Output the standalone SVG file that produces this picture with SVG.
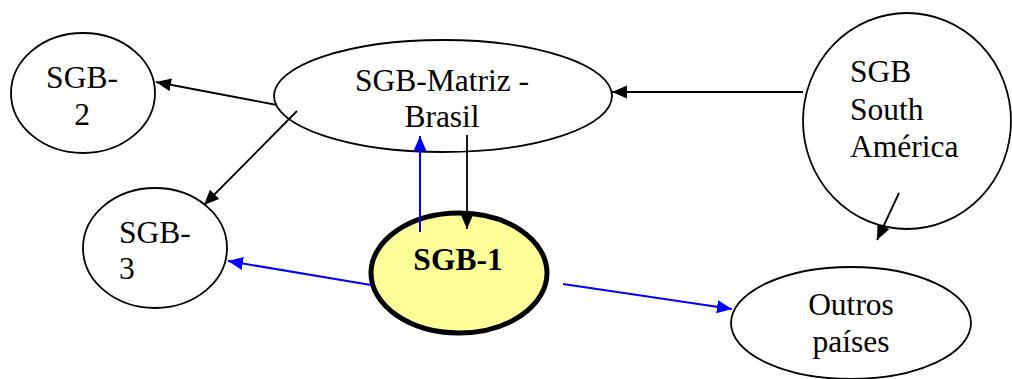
<svg xmlns="http://www.w3.org/2000/svg" width="1012" height="379" viewBox="0 0 1012 379">
<style>
.n{fill:#fff;stroke:#000;stroke-width:1.8}
.t{font-family:"Liberation Serif","Times New Roman",serif;font-size:31.5px;fill:#000}
.c{text-anchor:middle}
.k{stroke:#000;stroke-width:1.8;fill:none}
.b{stroke:#0000ff;stroke-width:2;fill:none}
</style>
<defs>
<marker id="ak" markerUnits="userSpaceOnUse" markerWidth="15" markerHeight="14" refX="15" refY="7" orient="auto"><path d="M0,0.5 L15,7 L0,13.5 Z" fill="#000"/></marker>
<marker id="ab" markerUnits="userSpaceOnUse" markerWidth="15" markerHeight="14" refX="15" refY="7" orient="auto"><path d="M0,0.5 L15,7 L0,13.5 Z" fill="#0000ff"/></marker>
</defs>
<g id="sgb2"><ellipse class="n" cx="83" cy="93" rx="72" ry="60"/><text class="t c" x="82" y="88">SGB-</text><text class="t c" x="82" y="125">2</text></g>
<g id="matriz"><ellipse class="n" cx="443" cy="96" rx="169" ry="56"/><text class="t c" x="442" y="91">SGB-Matriz -</text><text class="t c" x="442" y="127">Brasil</text></g>
<g id="south"><ellipse class="n" cx="907" cy="121" rx="104" ry="108"/><text class="t" x="850" y="82">SGB</text><text class="t" x="850" y="120">South</text><text class="t" x="850" y="157">América</text></g>
<g id="sgb3"><ellipse class="n" cx="155" cy="248" rx="72" ry="60"/><text class="t" x="119" y="243">SGB-</text><text class="t" x="119" y="279">3</text></g>
<g id="sgb1"><ellipse cx="459" cy="273" rx="88" ry="60" fill="#ffff99" stroke="#000" stroke-width="5"/><text class="t c" x="458" y="270" font-weight="bold">SGB-1</text></g>
<g id="outros"><ellipse class="n" cx="851" cy="323" rx="120" ry="56"/><text class="t c" x="851" y="315">Outros</text><text class="t c" x="851" y="352">países</text></g>
<g id="connectors">
<line class="k" x1="803" y1="92" x2="612" y2="92" marker-end="url(#ak)"/>
<line class="k" x1="277" y1="105" x2="156" y2="82" marker-end="url(#ak)"/>
<line class="k" x1="297" y1="111" x2="204" y2="205" marker-end="url(#ak)"/>
<line class="k" x1="899" y1="193" x2="877" y2="240" marker-end="url(#ak)"/>
<line class="k" x1="467" y1="135" x2="467" y2="229" marker-end="url(#ak)"/>
<line class="b" x1="420" y1="232" x2="420" y2="136" marker-end="url(#ab)"/>
<line class="b" x1="371" y1="285" x2="228" y2="261" marker-end="url(#ab)"/>
<line class="b" x1="563" y1="284" x2="732" y2="309" marker-end="url(#ab)"/>
</g>
</svg>
